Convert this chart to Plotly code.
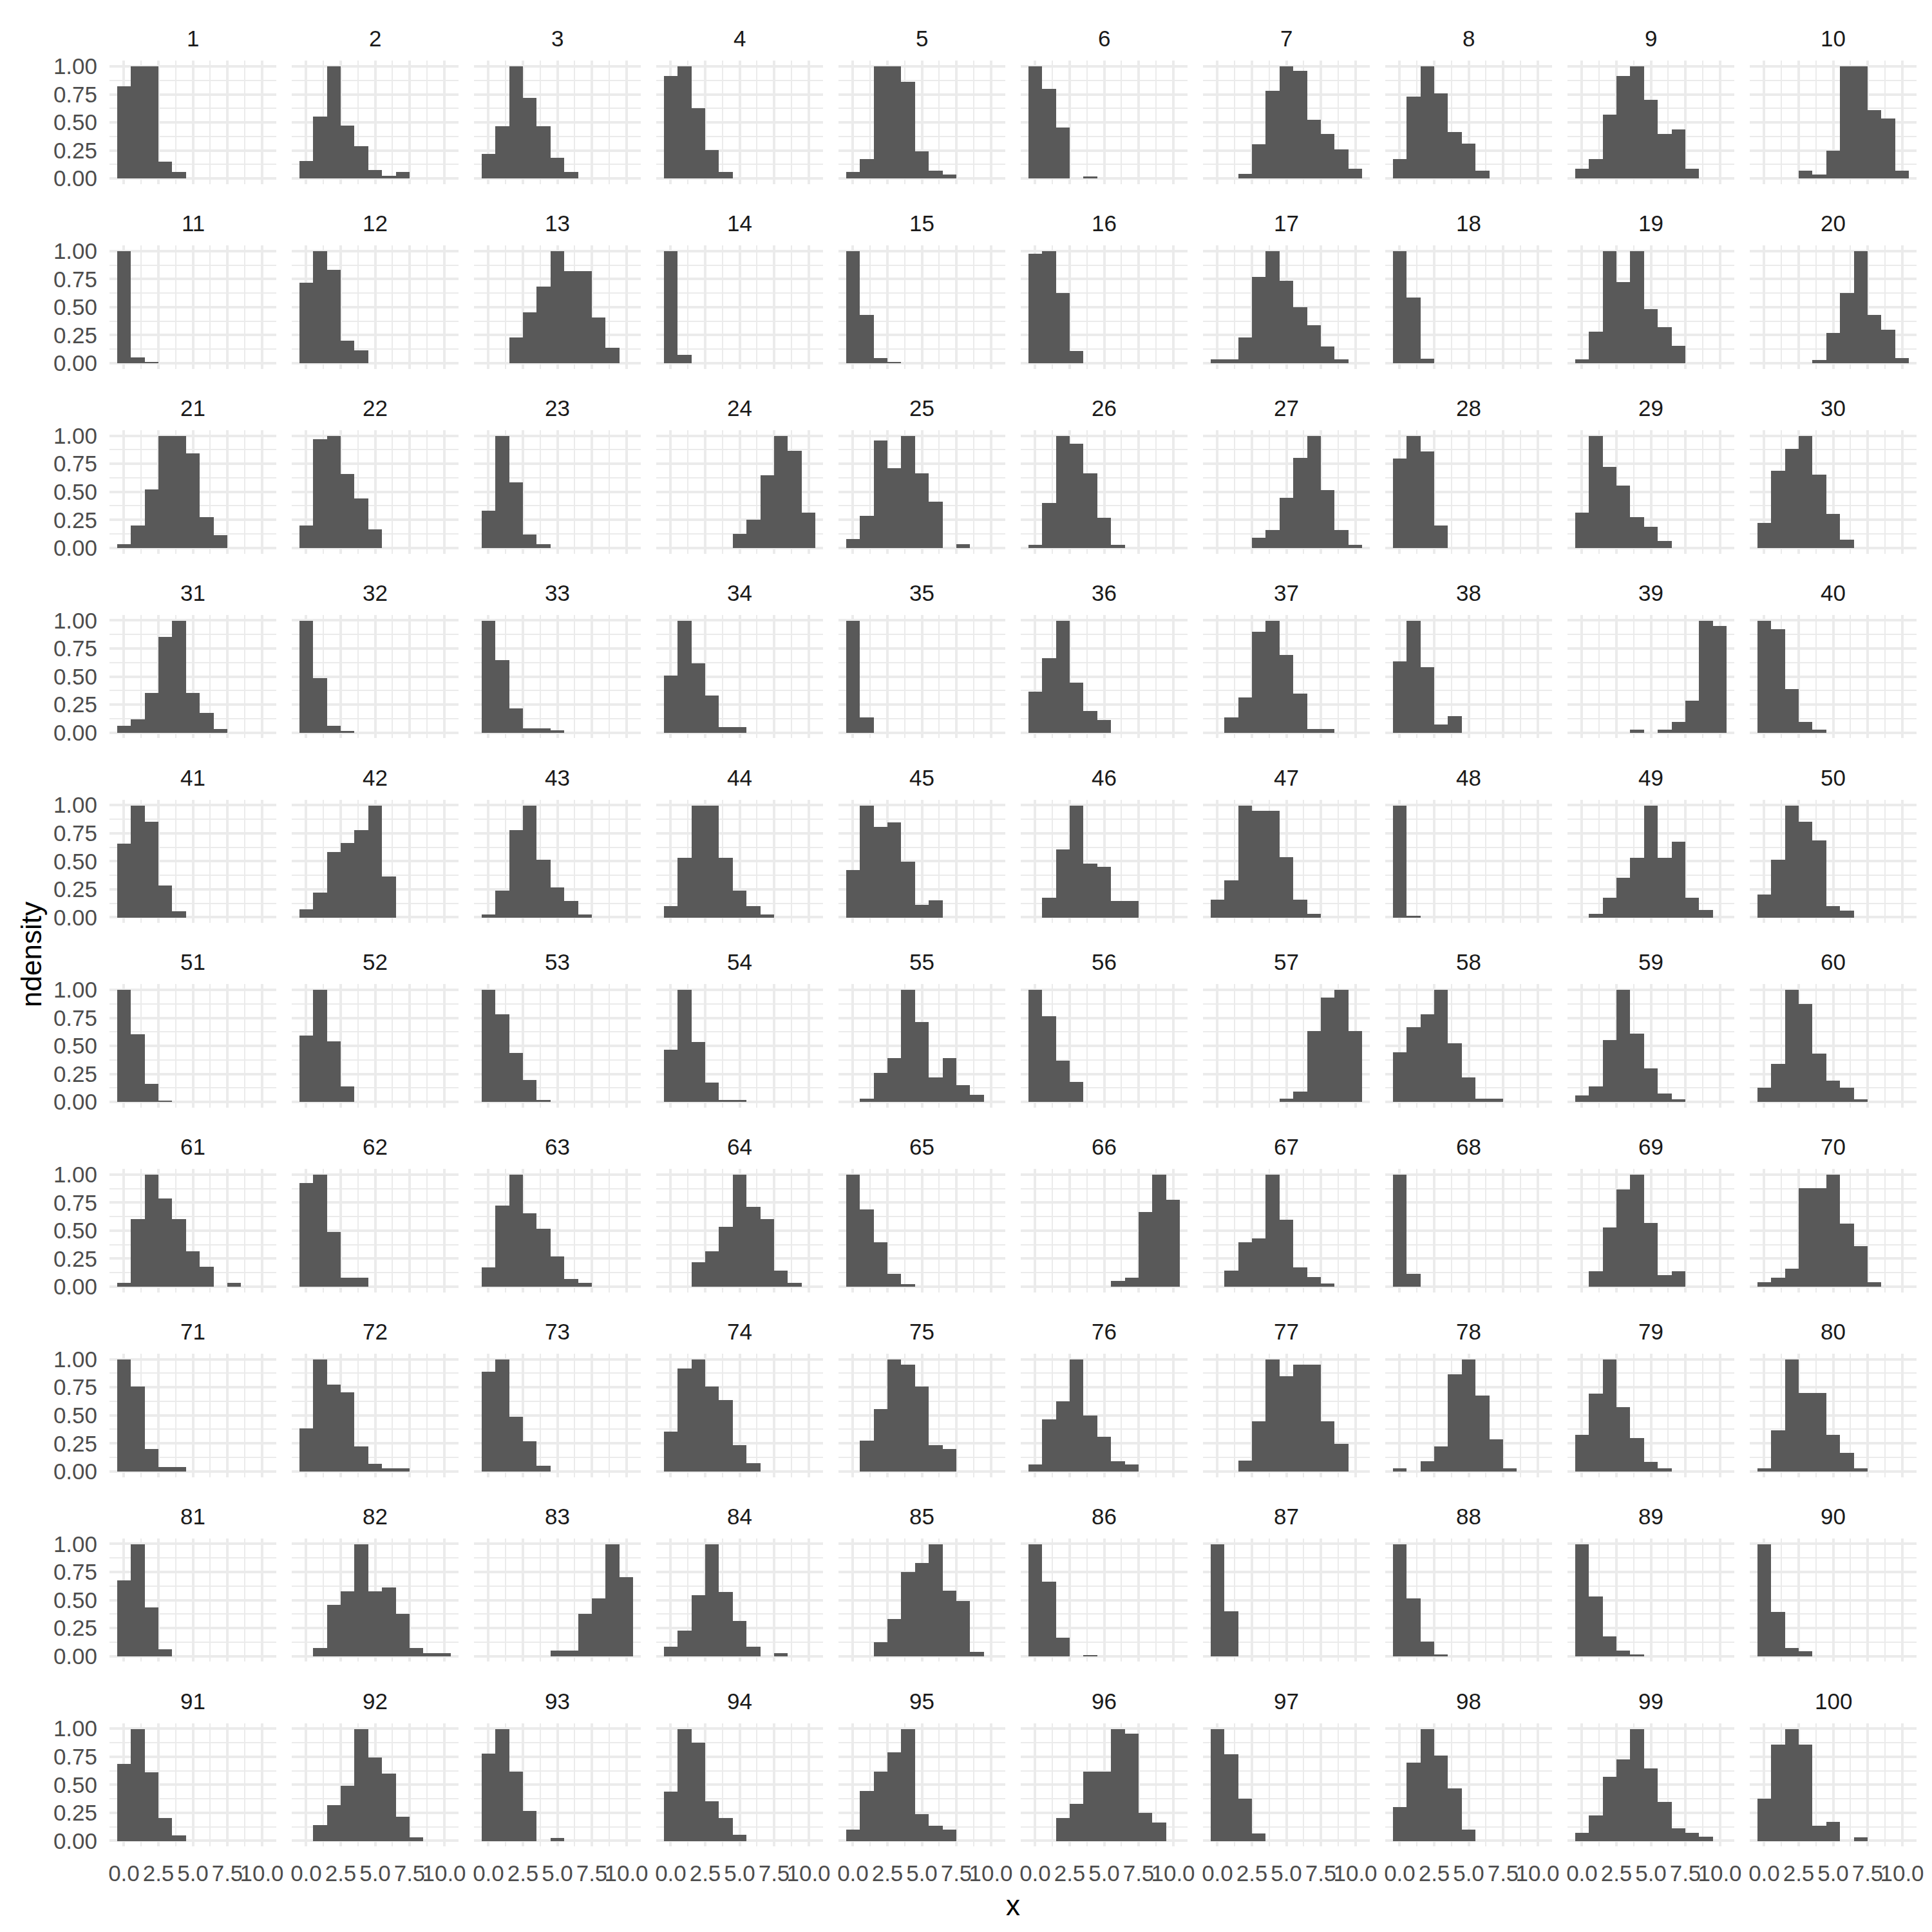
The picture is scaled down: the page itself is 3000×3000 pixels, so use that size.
import plotly.graph_objects as go

# Bin centres (binwidth 1) shared by all panels
bins = [0, 1, 2, 3, 4, 5, 6, 7, 8, 9, 10]
panel_labels = [str(i) for i in range(1, 101)]
x_ticks = [0, 2.5, 5, 7.5, 10]
y_ticks = [0, 0.25, 0.5, 0.75, 1.0]

# ndensity per bin, one list per facet, grouped by facet row
ndens_row1 = [
    [0.82, 1.0, 1.0, 0.15, 0.057, 0, 0, 0, 0, 0, 0],
    [0.156, 0.553, 1.0, 0.471, 0.288, 0.075, 0.024, 0.054, 0, 0, 0],
    [0.219, 0.465, 1.0, 0.718, 0.465, 0.183, 0.057, 0, 0, 0, 0],
    [0.913, 1.0, 0.628, 0.252, 0.057, 0, 0, 0, 0, 0, 0],
    [0.057, 0.174, 1.0, 1.0, 0.862, 0.243, 0.069, 0.033, 0, 0, 0],
    [1.0, 0.8, 0.453, 0, 0.015, 0, 0, 0, 0, 0, 0],
    [0, 0, 0.042, 0.306, 0.781, 1.0, 0.961, 0.523, 0.396, 0.258, 0.087],
    [0.174, 0.727, 1.0, 0.757, 0.414, 0.312, 0.069, 0, 0, 0, 0],
    [0.087, 0.174, 0.568, 0.913, 1.0, 0.697, 0.393, 0.438, 0.087, 0, 0],
    [0, 0, 0, 0.067, 0.033, 0.246, 1.0, 1.0, 0.608, 0.536, 0.067],
]
ndens_row2 = [
    [1.0, 0.051, 0.012, 0, 0, 0, 0, 0, 0, 0, 0],
    [0.718, 1.0, 0.832, 0.198, 0.114, 0, 0, 0, 0, 0, 0],
    [0, 0, 0.228, 0.453, 0.682, 1.0, 0.82, 0.82, 0.405, 0.135, 0],
    [1.0, 0.072, 0, 0, 0, 0, 0, 0, 0, 0, 0],
    [1.0, 0.429, 0.045, 0.012, 0, 0, 0, 0, 0, 0, 0],
    [0.976, 1.0, 0.625, 0.108, 0, 0, 0, 0, 0, 0, 0],
    [0.036, 0.036, 0.228, 0.769, 1.0, 0.733, 0.498, 0.339, 0.15, 0.036, 0],
    [1.0, 0.586, 0.042, 0, 0, 0, 0, 0, 0, 0, 0],
    [0.036, 0.279, 1.0, 0.72, 1.0, 0.48, 0.321, 0.156, 0, 0, 0],
    [0, 0, 0, 0, 0.027, 0.267, 0.625, 1.0, 0.429, 0.297, 0.048],
]
ndens_row3 = [
    [0.036, 0.201, 0.52, 1.0, 1.0, 0.841, 0.276, 0.117, 0, 0, 0],
    [0.201, 0.97, 1.0, 0.66, 0.444, 0.168, 0, 0, 0, 0, 0],
    [0.33, 1.0, 0.583, 0.12, 0.036, 0, 0, 0, 0, 0, 0],
    [0, 0, 0, 0, 0, 0.126, 0.252, 0.646, 1.0, 0.865, 0.318],
    [0.081, 0.288, 0.961, 0.709, 1.0, 0.667, 0.414, 0, 0.036, 0, 0],
    [0.03, 0.4, 1.0, 0.931, 0.667, 0.267, 0.03, 0, 0, 0, 0],
    [0, 0, 0, 0.093, 0.159, 0.45, 0.805, 1.0, 0.514, 0.159, 0.03],
    [0.799, 1.0, 0.859, 0.198, 0, 0, 0, 0, 0, 0, 0],
    [0.315, 1.0, 0.721, 0.559, 0.276, 0.186, 0.063, 0, 0, 0, 0],
    [0.225, 0.691, 0.886, 1.0, 0.652, 0.306, 0.075, 0, 0, 0, 0],
]
ndens_row4 = [
    [0.06, 0.12, 0.353, 0.856, 1.0, 0.353, 0.177, 0.033, 0, 0, 0],
    [1.0, 0.485, 0.06, 0.015, 0, 0, 0, 0, 0, 0, 0],
    [1.0, 0.65, 0.216, 0.039, 0.039, 0.021, 0, 0, 0, 0, 0],
    [0.509, 1.0, 0.617, 0.335, 0.051, 0.051, 0, 0, 0, 0, 0],
    [1.0, 0.135, 0, 0, 0, 0, 0, 0, 0, 0, 0],
    [0.365, 0.668, 1.0, 0.446, 0.195, 0.114, 0, 0, 0, 0, 0],
    [0, 0.135, 0.317, 0.898, 1.0, 0.692, 0.347, 0.033, 0.033, 0, 0],
    [0.635, 1.0, 0.587, 0.075, 0.147, 0, 0, 0, 0, 0, 0],
    [0, 0, 0, 0, 0.027, 0, 0.027, 0.096, 0.284, 1.0, 0.952],
    [1.0, 0.925, 0.392, 0.096, 0.027, 0, 0, 0, 0, 0, 0],
]
ndens_row5 = [
    [0.658, 1.0, 0.856, 0.285, 0.057, 0, 0, 0, 0, 0, 0],
    [0.072, 0.222, 0.586, 0.664, 0.781, 1.0, 0.366, 0, 0, 0, 0],
    [0.027, 0.24, 0.781, 1.0, 0.517, 0.267, 0.147, 0.027, 0, 0, 0],
    [0.102, 0.532, 1.0, 1.0, 0.532, 0.243, 0.102, 0.03, 0, 0, 0],
    [0.423, 1.0, 0.808, 0.85, 0.498, 0.117, 0.153, 0, 0, 0, 0],
    [0, 0.177, 0.607, 1.0, 0.48, 0.453, 0.147, 0.147, 0, 0, 0],
    [0.162, 0.33, 1.0, 0.955, 0.955, 0.538, 0.162, 0.036, 0, 0, 0],
    [1.0, 0.015, 0, 0, 0, 0, 0, 0, 0, 0, 0],
    [0, 0.033, 0.177, 0.354, 0.532, 1.0, 0.532, 0.676, 0.177, 0.066, 0],
    [0.204, 0.517, 1.0, 0.856, 0.688, 0.102, 0.063, 0, 0, 0, 0],
]
ndens_row6 = [
    [1.0, 0.604, 0.159, 0.012, 0, 0, 0, 0, 0, 0, 0],
    [0.589, 1.0, 0.541, 0.135, 0, 0, 0, 0, 0, 0, 0],
    [1.0, 0.778, 0.438, 0.192, 0.018, 0, 0, 0, 0, 0, 0],
    [0.465, 1.0, 0.532, 0.174, 0.018, 0.018, 0, 0, 0, 0, 0],
    [0, 0.03, 0.255, 0.387, 1.0, 0.709, 0.219, 0.387, 0.15, 0.063, 0],
    [1.0, 0.763, 0.366, 0.18, 0, 0, 0, 0, 0, 0, 0],
    [0, 0, 0, 0, 0, 0.03, 0.093, 0.631, 0.931, 1.0, 0.631],
    [0.444, 0.667, 0.778, 1.0, 0.52, 0.219, 0.03, 0.03, 0, 0, 0],
    [0.054, 0.135, 0.55, 1.0, 0.61, 0.3, 0.075, 0.024, 0, 0, 0],
    [0.123, 0.339, 1.0, 0.874, 0.432, 0.186, 0.123, 0.024, 0, 0, 0],
]
ndens_row7 = [
    [0.033, 0.605, 1.0, 0.787, 0.605, 0.317, 0.177, 0, 0.033, 0, 0],
    [0.925, 1.0, 0.485, 0.081, 0.081, 0, 0, 0, 0, 0, 0],
    [0.171, 0.722, 1.0, 0.653, 0.518, 0.272, 0.069, 0.033, 0, 0, 0],
    [0, 0, 0.216, 0.317, 0.533, 1.0, 0.713, 0.605, 0.141, 0.033, 0],
    [1.0, 0.689, 0.395, 0.114, 0.021, 0, 0, 0, 0, 0, 0],
    [0, 0, 0, 0, 0, 0, 0.051, 0.081, 0.668, 1.0, 0.772],
    [0, 0.141, 0.398, 0.428, 1.0, 0.599, 0.171, 0.084, 0.027, 0, 0],
    [1.0, 0.114, 0, 0, 0, 0, 0, 0, 0, 0, 0],
    [0, 0.138, 0.53, 0.868, 1.0, 0.566, 0.102, 0.138, 0, 0, 0],
    [0.039, 0.078, 0.159, 0.88, 0.88, 1.0, 0.56, 0.359, 0.039, 0, 0],
]
ndens_row8 = [
    [1.0, 0.757, 0.2, 0.042, 0.042, 0, 0, 0, 0, 0, 0],
    [0.386, 1.0, 0.775, 0.707, 0.225, 0.066, 0.03, 0.03, 0, 0, 0],
    [0.889, 1.0, 0.488, 0.269, 0.051, 0, 0, 0, 0, 0, 0],
    [0.356, 0.916, 1.0, 0.757, 0.638, 0.237, 0.075, 0, 0, 0, 0],
    [0, 0.275, 0.557, 1.0, 0.955, 0.757, 0.237, 0.198, 0, 0, 0],
    [0.06, 0.464, 0.626, 1.0, 0.5, 0.311, 0.093, 0.06, 0, 0, 0],
    [0, 0, 0.099, 0.449, 1.0, 0.85, 0.952, 0.952, 0.449, 0.249, 0],
    [0.03, 0, 0.093, 0.225, 0.868, 1.0, 0.677, 0.287, 0.03, 0, 0],
    [0.329, 0.695, 1.0, 0.575, 0.299, 0.087, 0.03, 0, 0, 0, 0],
    [0.03, 0.368, 1.0, 0.701, 0.701, 0.329, 0.168, 0.03, 0, 0, 0],
]
ndens_row9 = [
    [0.674, 1.0, 0.434, 0.063, 0, 0, 0, 0, 0, 0, 0],
    [0, 0.075, 0.458, 0.581, 1.0, 0.581, 0.611, 0.38, 0.075, 0.03, 0.03],
    [0, 0, 0, 0, 0, 0.051, 0.051, 0.377, 0.515, 1.0, 0.704],
    [0.087, 0.228, 0.542, 1.0, 0.572, 0.314, 0.087, 0, 0.027, 0, 0],
    [0, 0, 0.126, 0.335, 0.751, 0.832, 1.0, 0.584, 0.494, 0.039, 0],
    [1.0, 0.668, 0.165, 0, 0.012, 0, 0, 0, 0, 0, 0],
    [1.0, 0.401, 0, 0, 0, 0, 0, 0, 0, 0, 0],
    [1.0, 0.515, 0.132, 0.015, 0, 0, 0, 0, 0, 0, 0],
    [1.0, 0.533, 0.177, 0.051, 0.015, 0, 0, 0, 0, 0, 0],
    [1.0, 0.395, 0.075, 0.045, 0, 0, 0, 0, 0, 0, 0],
]
ndens_row10 = [
    [0.691, 1.0, 0.616, 0.204, 0.05, 0, 0, 0, 0, 0, 0],
    [0, 0.141, 0.319, 0.496, 1.0, 0.748, 0.605, 0.216, 0.032, 0, 0],
    [0.782, 1.0, 0.622, 0.267, 0, 0.027, 0, 0, 0, 0, 0],
    [0.439, 1.0, 0.88, 0.353, 0.204, 0.055, 0, 0, 0, 0, 0],
    [0.101, 0.445, 0.622, 0.794, 1.0, 0.239, 0.135, 0.101, 0, 0, 0],
    [0, 0, 0.204, 0.332, 0.622, 0.622, 1.0, 0.96, 0.25, 0.164, 0],
    [1.0, 0.777, 0.376, 0.067, 0, 0, 0, 0, 0, 0, 0],
    [0.302, 0.697, 1.0, 0.765, 0.468, 0.101, 0, 0, 0, 0, 0],
    [0.073, 0.227, 0.576, 0.731, 1.0, 0.651, 0.347, 0.113, 0.073, 0.038, 0],
    [0.376, 0.863, 1.0, 0.863, 0.135, 0.17, 0, 0.032, 0, 0, 0],
]

all_rows = [ndens_row1, ndens_row2, ndens_row3, ndens_row4, ndens_row5,
            ndens_row6, ndens_row7, ndens_row8, ndens_row9, ndens_row10]

# ---- layout geometry (pixels in a 3000x3000 canvas) ----
W = H = 3000
COL_LEFT, COL_W, COL_STEP = 170.0, 259.0, 283.0
ROW_TOP, ROW_H, ROW_STEP = 94.3, 191.6, 286.8

BAR = "#595959"
GRID = "#EBEBEB"
FONT = "Arial, Liberation Sans, sans-serif"
TICK_FONT = dict(family=FONT, size=35, color="#4D4D4D")

fig = go.Figure()
layout = {}
annotations = []

for r, row in enumerate(all_rows):
    for c, vals in enumerate(row):
        n = r * 10 + c + 1
        xs = "" if n == 1 else str(n)
        left = COL_LEFT + c * COL_STEP
        right = left + COL_W
        top = ROW_TOP + r * ROW_STEP
        bottom = top + ROW_H
        fig.add_trace(go.Bar(
            x=bins, y=vals, xaxis="x" + xs, yaxis="y" + xs,
            marker=dict(color=BAR, line=dict(width=0)),
            showlegend=False, hoverinfo="x+y",
        ))
        layout["xaxis" + xs] = dict(
            domain=[left / W, right / W], anchor="y" + xs,
            range=[-1.05, 11.05], tickmode="array", tickvals=x_ticks,
            ticktext=["0.0", "2.5", "5.0", "7.5", "10.0"], tickangle=0,
            showticklabels=(r == 9), ticks="", tickfont=TICK_FONT,
            ticklabelstandoff=18,
            showgrid=True, gridcolor=GRID, gridwidth=4,
            zeroline=False, showline=False, automargin=False,
            minor=dict(tickmode="array", tickvals=[1.25, 3.75, 6.25, 8.75],
                       showgrid=True, gridcolor=GRID, gridwidth=2),
        )
        layout["yaxis" + xs] = dict(
            domain=[1 - bottom / H, 1 - top / H], anchor="x" + xs,
            range=[-0.05, 1.05], tickmode="array", tickvals=y_ticks,
            ticktext=["0.00", "0.25", "0.50", "0.75", "1.00"],
            showticklabels=(c == 0), ticks="", tickfont=TICK_FONT,
            ticklabelstandoff=18,
            showgrid=True, gridcolor=GRID, gridwidth=4,
            zeroline=False, showline=False, automargin=False,
            minor=dict(tickmode="array",
                       tickvals=[0.125, 0.375, 0.625, 0.875],
                       showgrid=True, gridcolor=GRID, gridwidth=2),
        )
        annotations.append(dict(
            text=panel_labels[n - 1], xref="paper", yref="paper",
            x=(left + right) / 2 / W, y=1 - (top - 34.5) / H,
            xanchor="center", yanchor="middle", showarrow=False,
            font=dict(family=FONT, size=35, color="#1A1A1A"),
        ))

annotations.append(dict(
    text="x", xref="paper", yref="paper", x=1573 / W, y=1 - 2958 / H,
    xanchor="center", yanchor="middle", showarrow=False,
    font=dict(family=FONT, size=44, color="#000000"),
))
annotations.append(dict(
    text="ndensity", xref="paper", yref="paper", x=48 / W, y=1 - 1482 / H,
    xanchor="center", yanchor="middle", showarrow=False, textangle=-90,
    font=dict(family=FONT, size=44, color="#000000"),
))

fig.update_layout(
    width=W, height=H, margin=dict(l=0, r=0, t=0, b=0),
    paper_bgcolor="white", plot_bgcolor="white",
    bargap=0, barmode="overlay", annotations=annotations,
    **layout,
)

fig.write_html("out.html", config={"displayModeBar": False},
               post_script="document.body.style.margin='0';")
